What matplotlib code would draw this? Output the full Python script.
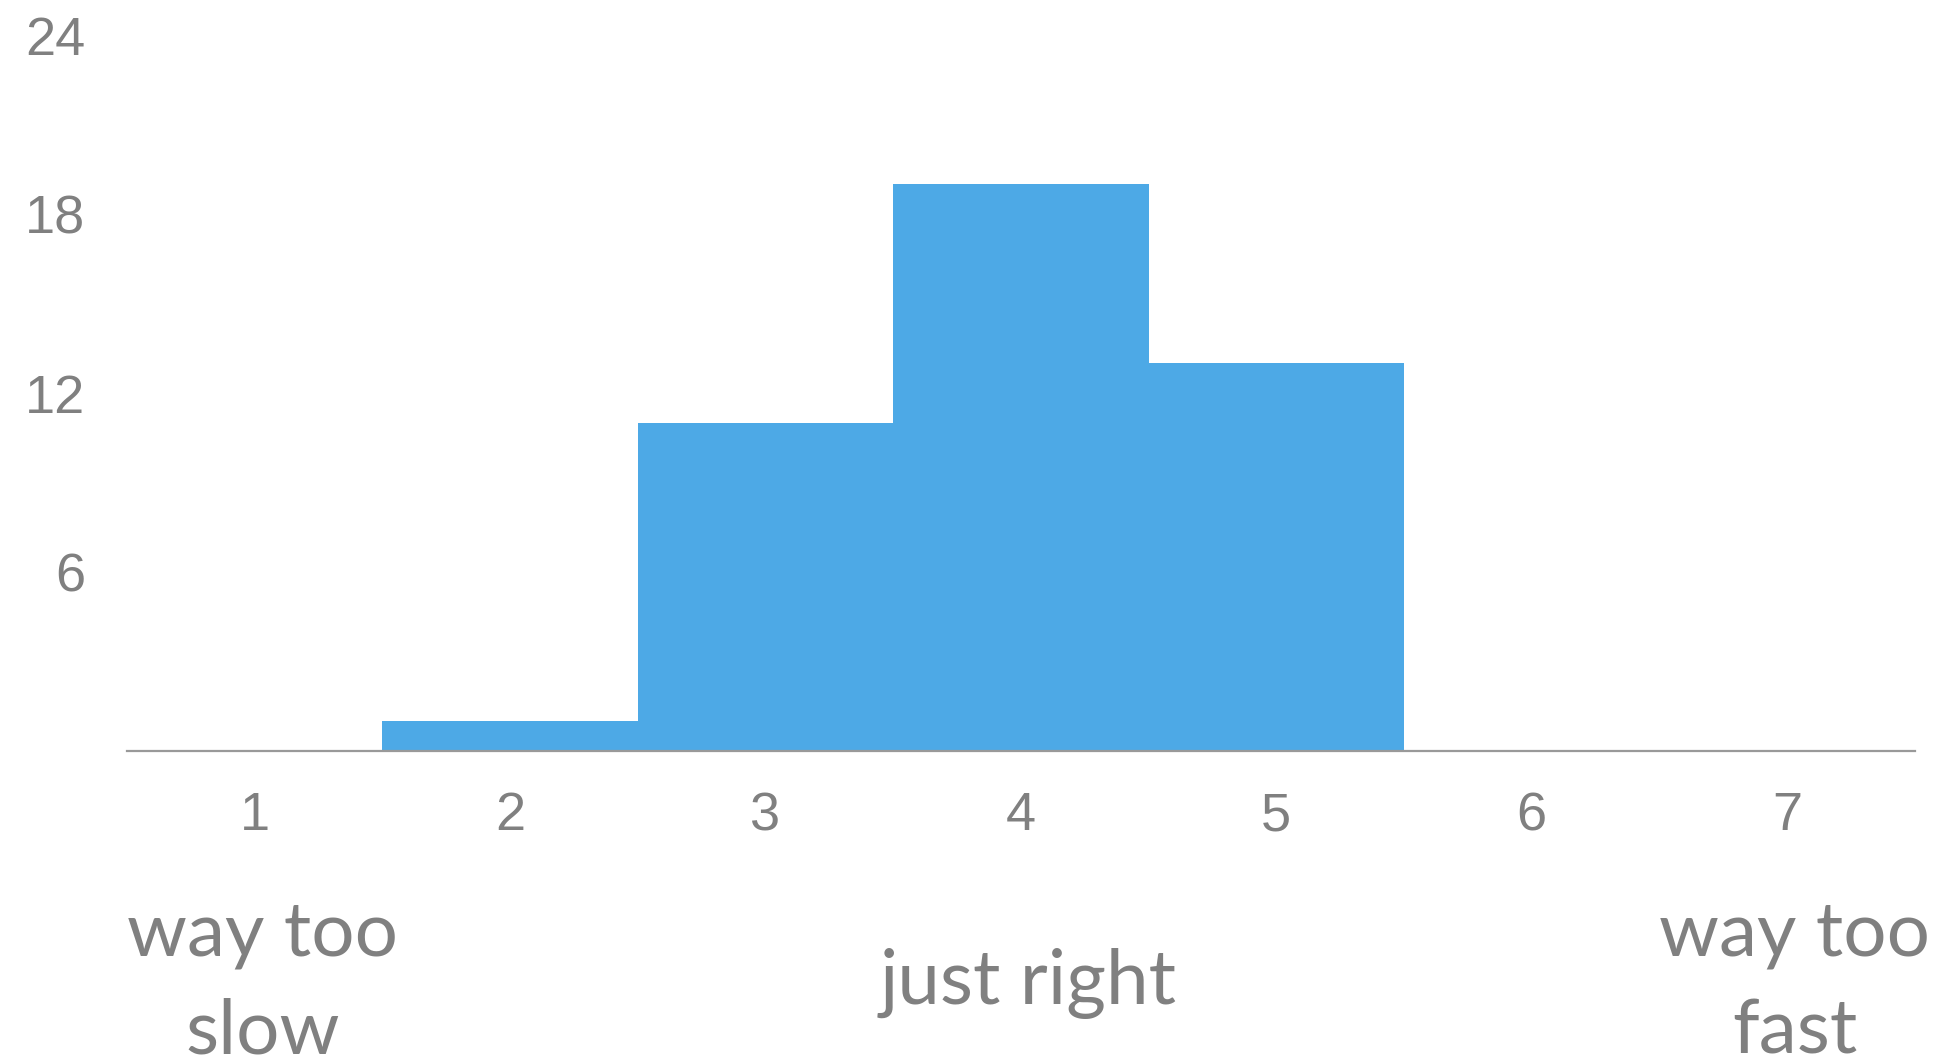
import numpy as np
import matplotlib.pyplot as plt
import matplotlib.transforms as mtransforms

ratings = [1, 2, 3, 4, 5, 6, 7]
counts = [0, 1, 11, 19, 13, 0, 0]
y_ticks = [6, 12, 18, 24]
anchor_pos = [1, 4, 7]
anchor_labels = ["way too\nslow", "just right", "way too\nfast"]

grey = "#808080"

fig = plt.figure(figsize=(19.4, 10.62), dpi=100)
ax = fig.add_axes([0.0655, 0.2928, 0.9215, 0.6742])

ax.bar(ratings, counts, width=1.0, color="#4DA9E6", linewidth=0)
ax.set_xlim(0.5, 7.5)
ax.set_ylim(0, 24)

for s in ["top", "right", "left"]:
    ax.spines[s].set_visible(False)
ax.spines["bottom"].set_color("#999999")
ax.spines["bottom"].set_linewidth(1.6)

ax.set_yticks(y_ticks)
ax.set_xticks(ratings)
ax.tick_params(axis="both", length=0, colors=grey, labelsize=39)
ax.tick_params(axis="y", pad=30)
ax.tick_params(axis="x", pad=29)
for lab in ax.get_xticklabels() + ax.get_yticklabels():
    lab.set_fontfamily("Liberation Sans")

trans = mtransforms.blended_transform_factory(ax.transData, fig.transFigure)
for x, t in zip(anchor_pos, anchor_labels):
    ax.text(x + 0.03, 0.074, t, transform=trans, ha="center", va="center",
            fontsize=55, color=grey, family="Lato", linespacing=1.52)

fig.savefig("out.png", dpi=100)
